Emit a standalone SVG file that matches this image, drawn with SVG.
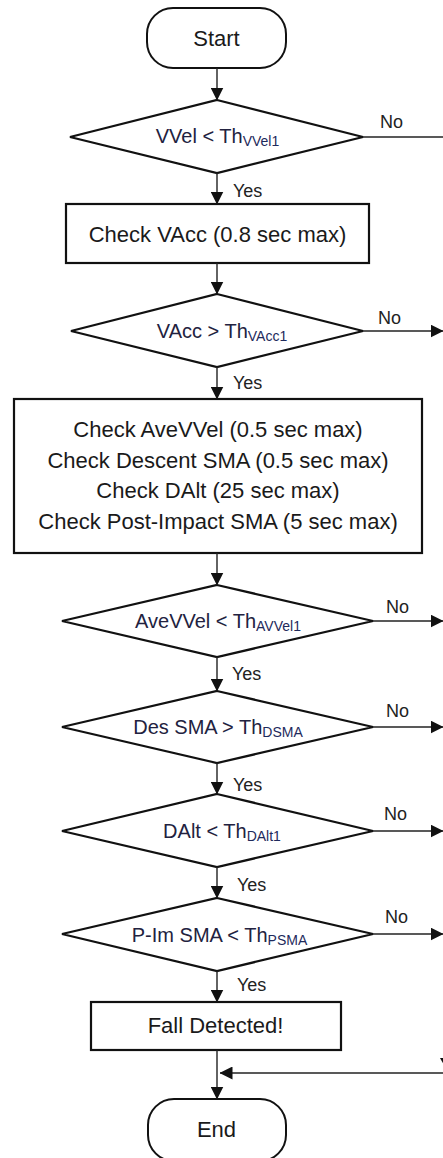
<svg xmlns="http://www.w3.org/2000/svg" width="443" height="1158" viewBox="0 0 443 1158">
<style>
  .term { fill: #ffffff; stroke: #111111; stroke-width: 2; }
  .box { fill: #ffffff; stroke: #111111; stroke-width: 2.2; }
  .dia { fill: #ffffff; stroke: #111111; stroke-width: 2.2; stroke-linejoin: miter; }
  .conn { fill: none; stroke: #222222; stroke-width: 1.4; }
  .t22 { font-family: "Liberation Sans", Arial, sans-serif; font-size: 22px; fill: #1a1a1a; text-anchor: middle; }
  .td { font-family: "Liberation Sans", Arial, sans-serif; font-size: 20px; fill: #222240; text-anchor: middle; }
  .sub { font-size: 14px; fill: #1e2a5c; }
  .lbl { font-family: "Liberation Sans", Arial, sans-serif; font-size: 18px; fill: #222222; }
</style>
<defs>
  <marker id="arr" markerUnits="userSpaceOnUse" markerWidth="13" markerHeight="13" viewBox="0 0 13 13" refX="12.5" refY="6.5" orient="auto">
    <path d="M0,0 L13,6.5 L0,13 Z" fill="#111111"/>
  </marker>
</defs>

<g id="start">
  <rect class="term" x="147" y="8" width="139" height="60" rx="26" ry="26"/>
  <text class="t22" x="216.5" y="46">Start</text>
</g>

<g id="d1">
  <polygon class="dia" points="217,100 363,137 217,173 70,137"/>
  <text class="td" x="217.5" y="143">VVel &lt; Th<tspan class="sub" dy="3">VVel1</tspan></text>
</g>

<g id="b1">
  <rect class="box" x="66" y="204" width="303" height="59"/>
  <text class="t22" x="217.5" y="242">Check VAcc (0.8 sec max)</text>
</g>

<g id="d2">
  <polygon class="dia" points="217,294 363,331 217,367 71,331"/>
  <text class="td" x="222" y="338">VAcc &gt; Th<tspan class="sub" dy="3">VAcc1</tspan></text>
</g>

<g id="b2">
  <rect class="box" x="14" y="399" width="408" height="154"/>
  <text class="t22" x="218" y="437">Check AveVVel (0.5 sec max)</text>
  <text class="t22" x="218" y="467.5">Check Descent SMA (0.5 sec max)</text>
  <text class="t22" x="218" y="498">Check DAlt (25 sec max)</text>
  <text class="t22" x="218" y="528.5">Check Post-Impact SMA (5 sec max)</text>
</g>

<g id="d3">
  <polygon class="dia" points="217,585 373,621 217,657 62,621"/>
  <text class="td" x="218" y="628">AveVVel &lt; Th<tspan class="sub" dy="3">AVVel1</tspan></text>
</g>

<g id="d4">
  <polygon class="dia" points="217,691 373,727 217,763 62,727"/>
  <text class="td" x="218" y="734">Des SMA &gt; Th<tspan class="sub" dy="3">DSMA</tspan></text>
</g>

<g id="d5">
  <polygon class="dia" points="217,794 373,831 217,867 62,831"/>
  <text class="td" x="222" y="838">DAlt &lt; Th<tspan class="sub" dy="3">DAlt1</tspan></text>
</g>

<g id="d6">
  <polygon class="dia" points="217,898 373,934 217,971 62,934"/>
  <text class="td" x="219.5" y="942">P-Im SMA &lt; Th<tspan class="sub" dy="3">PSMA</tspan></text>
</g>

<g id="b3">
  <rect class="box" x="91" y="1002" width="250" height="48"/>
  <text class="t22" x="215.5" y="1033">Fall Detected!</text>
</g>

<g id="end">
  <rect class="term" x="148" y="1099" width="138" height="62" rx="26" ry="26"/>
  <text class="t22" x="216.5" y="1137">End</text>
</g>

<g id="connectors">
  <line class="conn" x1="217" y1="68" x2="217" y2="100" marker-end="url(#arr)"/>
  <line class="conn" x1="217" y1="173" x2="217" y2="204" marker-end="url(#arr)"/>
  <line class="conn" x1="217" y1="263" x2="217" y2="294" marker-end="url(#arr)"/>
  <line class="conn" x1="217" y1="367" x2="217" y2="399" marker-end="url(#arr)"/>
  <line class="conn" x1="217" y1="553" x2="217" y2="585" marker-end="url(#arr)"/>
  <line class="conn" x1="217" y1="657" x2="217" y2="691" marker-end="url(#arr)"/>
  <line class="conn" x1="217" y1="763" x2="217" y2="794" marker-end="url(#arr)"/>
  <line class="conn" x1="217" y1="867" x2="217" y2="898" marker-end="url(#arr)"/>
  <line class="conn" x1="217" y1="971" x2="217" y2="1002" marker-end="url(#arr)"/>
  <line class="conn" x1="217" y1="1050" x2="217" y2="1099" marker-end="url(#arr)"/>

  <line class="conn" x1="363" y1="137" x2="443" y2="137"/>
  <line class="conn" x1="363" y1="331" x2="443" y2="331" marker-end="url(#arr)"/>
  <line class="conn" x1="373" y1="621" x2="443" y2="621" marker-end="url(#arr)"/>
  <line class="conn" x1="373" y1="727" x2="443" y2="727" marker-end="url(#arr)"/>
  <line class="conn" x1="373" y1="831" x2="443" y2="831" marker-end="url(#arr)"/>
  <line class="conn" x1="373" y1="934" x2="443" y2="934" marker-end="url(#arr)"/>
  <line class="conn" x1="443" y1="1073" x2="220" y2="1073" marker-end="url(#arr)"/>
  <polygon points="440,1058 454,1058 447,1070" fill="#111111"/>

  <text class="lbl" x="380" y="128">No</text>
  <text class="lbl" x="233" y="197">Yes</text>
  <text class="lbl" x="378" y="324">No</text>
  <text class="lbl" x="233" y="389">Yes</text>
  <text class="lbl" x="386" y="613">No</text>
  <text class="lbl" x="232" y="680">Yes</text>
  <text class="lbl" x="386" y="717">No</text>
  <text class="lbl" x="233" y="791">Yes</text>
  <text class="lbl" x="384" y="820">No</text>
  <text class="lbl" x="237" y="891">Yes</text>
  <text class="lbl" x="385" y="923">No</text>
  <text class="lbl" x="237" y="991">Yes</text>
</g>
</svg>
